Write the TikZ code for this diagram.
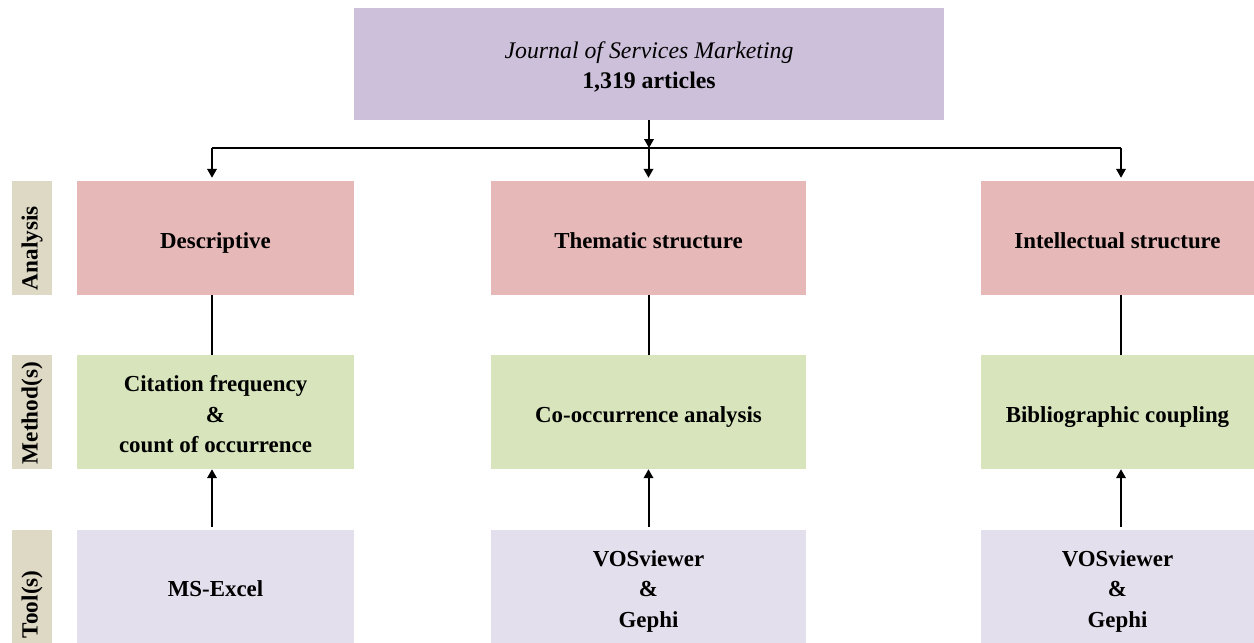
\documentclass[tikz,border=0pt]{standalone}
\usepackage{fontspec}
\setmainfont{Liberation Serif}
\usetikzlibrary{arrows.meta}
\definecolor{topc}{HTML}{CCC0DA}
\definecolor{anac}{HTML}{E6B8B7}
\definecolor{metc}{HTML}{D8E4BC}
\definecolor{tooc}{HTML}{E4DFEC}
\definecolor{sidec}{HTML}{DDD9C4}
\newcommand{\mystrut}{\rule[-5.25pt]{0pt}{30.5pt}}
\newcommand{\topstrut}{\rule[-5.5pt]{0pt}{30pt}}
\begin{document}
\begin{tikzpicture}[x=1pt,y=-1pt,
  box/.style={rectangle, inner sep=0pt, align=center, font=\fontsize{22.9}{30.5}\selectfont\bfseries},
  anabox/.style={box, fill=anac, minimum height=114pt},
  metbox/.style={box, fill=metc, minimum height=114pt},
  toolbox/.style={box, fill=tooc, minimum height=113pt},
  side/.style={rectangle, fill=sidec, inner sep=0pt, rotate=90, minimum height=40pt, font=\fontsize{23.2}{27}\selectfont\bfseries},
  conn/.style={line width=2pt, black},
  arr/.style={conn, -{Triangle[length=9pt,width=9.5pt]}}
]
\useasboundingbox (0,0) rectangle (1254,643);

% top box
\node[box, fill=topc, minimum width=590pt, minimum height=112pt, font=\fontsize{23.8}{30}\selectfont\bfseries] (top) at (649,64)
  {{\itshape\mdseries\topstrut Journal of Services Marketing}\\\topstrut 1,319 articles};

% side labels
\node[side, minimum width=114pt] (sa) at (32,238) {\makebox[104pt][l]{Analysis}};
\node[side, minimum width=114pt] (sm) at (32,412) {\makebox[104pt][l]{Method(s)}};
\node[side, minimum width=113pt] (st) at (32,586.5) {\makebox[103pt][l]{Tool(s)}};

% analysis row
\node[anabox, minimum width=277pt] (d1) at (215.5,238) {\mystrut Descriptive};
\node[anabox, minimum width=315pt] (t1) at (648.5,238) {\mystrut Thematic structure};
\node[anabox, minimum width=273pt] (i1) at (1117.5,238) {\mystrut Intellectual structure};

% method row
\node[metbox, minimum width=277pt] (d2) at (215.5,412) {\mystrut Citation frequency\\\mystrut\&\\\mystrut count of occurrence};
\node[metbox, minimum width=315pt] (t2) at (648.5,412) {\mystrut Co-occurrence analysis};
\node[metbox, minimum width=273pt] (i2) at (1117.5,412) {\mystrut Bibliographic coupling};

% tool row
\node[toolbox, minimum width=277pt] (d3) at (215.5,586.5) {\mystrut MS-Excel};
\node[toolbox, minimum width=315pt] (t3) at (648.5,586.5) {\mystrut VOSviewer\\\mystrut\&\\\mystrut Gephi};
\node[toolbox, minimum width=273pt] (i3) at (1117.5,586.5) {\mystrut VOSviewer\\\mystrut\&\\\mystrut Gephi};

% connectors
\coordinate (bus) at (649,148);
\draw[arr] (top.south) -- (bus);
\draw[conn] ([xshift=-3.5pt]bus -| d1.north) -- ([xshift=3.5pt]bus -| i1.north);
\draw[arr, shorten >=3pt] ([xshift=-3.5pt]bus -| d1.north) -- ([xshift=-3.5pt]d1.north);
\draw[arr, shorten >=3pt] (bus -| t1.north) -- (t1.north);
\draw[arr, shorten >=3pt] ([xshift=3.5pt]bus -| i1.north) -- ([xshift=3.5pt]i1.north);

\draw[conn] ([xshift=-3.5pt]d1.south) -- ([xshift=-3.5pt]d2.north);
\draw[conn] (t1.south) -- (t2.north);
\draw[conn] ([xshift=3.5pt]i1.south) -- ([xshift=3.5pt]i2.north);

\draw[arr, shorten <=3pt] ([xshift=-3.5pt]d3.north) -- ([xshift=-3.5pt]d2.south);
\draw[arr, shorten <=3pt] (t3.north) -- (t2.south);
\draw[arr, shorten <=3pt] ([xshift=3.5pt]i3.north) -- ([xshift=3.5pt]i2.south);
\end{tikzpicture}
\end{document}
